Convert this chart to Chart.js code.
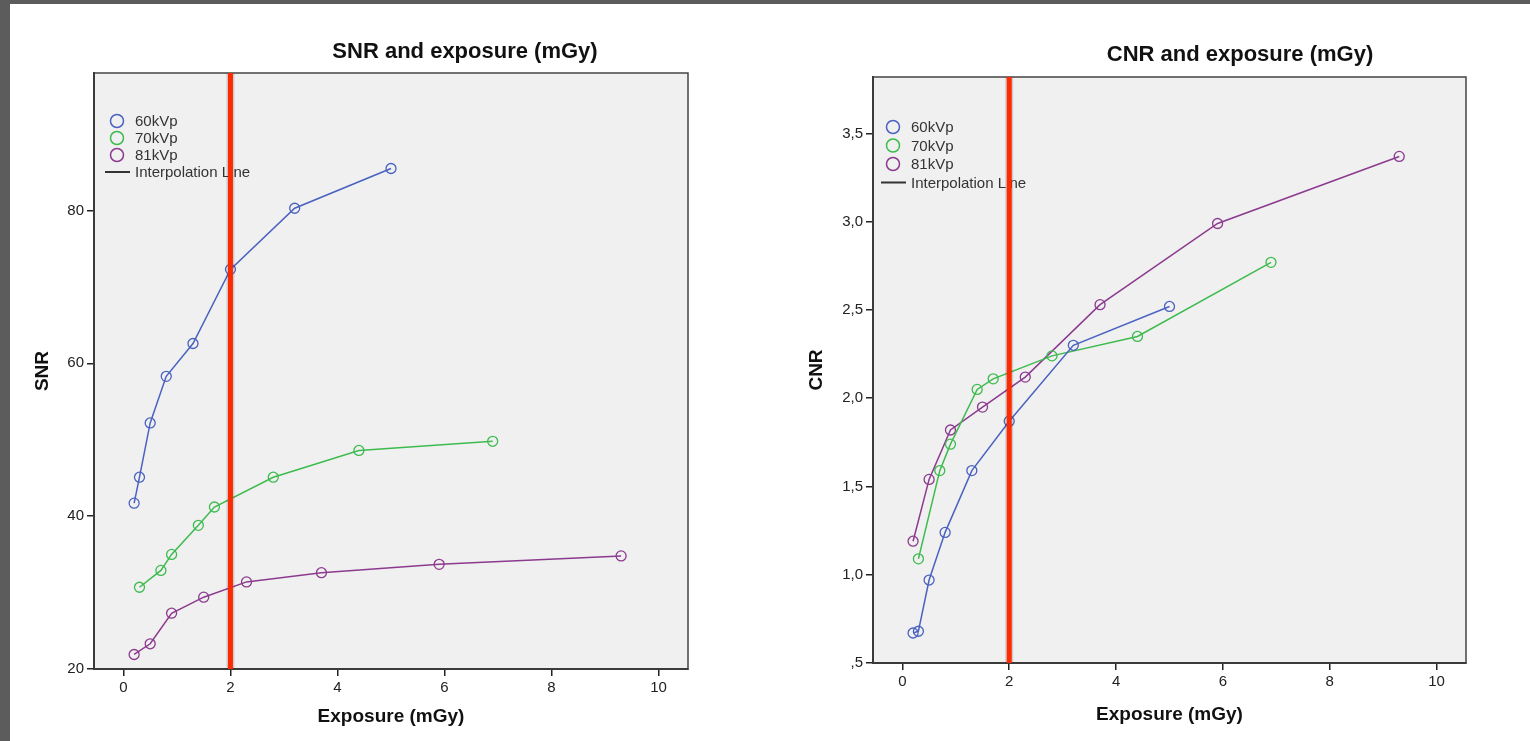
<!DOCTYPE html>
<html>
<head>
<meta charset="utf-8">
<script src="https://cdn.jsdelivr.net/npm/chart.js@4/dist/chart.umd.min.js"></script>
<style>
  html, body { margin: 0; padding: 0; }
  body { width: 1530px; height: 741px; background: #5c5c5c; position: relative; overflow: hidden; }
  #sheet { position: absolute; left: 10px; top: 4px; right: 0; bottom: 0; background: #fff; }
  canvas { position: absolute; top: 0; }
  #snr { left: 0; }
  #cnr { left: 770px; }
</style>
</head>
<body>
<div id="sheet"></div>
<canvas id="snr" width="770" height="741"></canvas>
<canvas id="cnr" width="760" height="741"></canvas>
<script>
// series labels
const seriesLabels = ["60kVp", "70kVp", "81kVp"];
const interpolationLabel = "Interpolation Line";

// exposure (mGy) for each tube voltage
const expo60 = [0.2, 0.3, 0.5, 0.8, 1.3, 2.0, 3.2, 5.0];
const expo70 = [0.3, 0.7, 0.9, 1.4, 1.7, 2.8, 4.4, 6.9];
const expo81 = [0.2, 0.5, 0.9, 1.5, 2.3, 3.7, 5.9, 9.3];

// SNR readings
const snr60 = [41.7, 45.1, 52.2, 58.3, 62.6, 72.3, 80.3, 85.5];
const snr70 = [30.7, 32.9, 35.0, 38.8, 41.2, 45.1, 48.6, 49.8];
const snr81 = [21.9, 23.3, 27.3, 29.4, 31.4, 32.6, 33.7, 34.8];

// CNR readings
const cnr60 = [0.67, 0.68, 0.97, 1.24, 1.59, 1.87, 2.30, 2.52];
const cnr70 = [1.09, 1.59, 1.74, 2.05, 2.11, 2.24, 2.35, 2.77];
const cnr81 = [1.19, 1.54, 1.82, 1.95, 2.12, 2.53, 2.99, 3.37];

// ticks
const xTicks = [0, 2, 4, 6, 8, 10];
const snrTicks = [20, 40, 60, 80];
const cnrTicks = [0.5, 1.0, 1.5, 2.0, 2.5, 3.0, 3.5];
const markerExposure = 2;

const colors = ["#4a62c0", "#3dbb4e", "#8c3a8f"];
const FONT = "'Liberation Sans', Arial, sans-serif";

const toPoints = (xs, ys) => xs.map((x, i) => ({ x: x, y: ys[i] }));

const makeDataset = (label, xs, ys, color) => ({
  label: label,
  data: toPoints(xs, ys),
  borderColor: color,
  backgroundColor: "transparent",
  borderWidth: 1.5,
  pointRadius: 5,
  pointBorderWidth: 1.3,
  pointBackgroundColor: "transparent",
  pointBorderColor: color,
  tension: 0,
});

// plot background, frame, in-plot legend, red marker line and offset title
const decorPlugin = {
  id: "decor",
  beforeDraw(chart, args, opts) {
    const a = chart.chartArea;
    const ctx = chart.ctx;
    ctx.save();
    ctx.fillStyle = "#f0f0f0";
    ctx.fillRect(a.left, a.top, a.right - a.left, a.bottom - a.top);
    ctx.restore();
  },
  afterDatasetsDraw(chart, args, opts) {
    const a = chart.chartArea;
    const ctx = chart.ctx;
    ctx.save();

    // legend inside the plot
    ctx.font = "15px " + FONT;
    ctx.textBaseline = "middle";
    ctx.fillStyle = "#333";
    const lx = a.left + opts.legendX;
    let ly = a.top + opts.legendY;
    seriesLabels.forEach((lab, i) => {
      ctx.beginPath();
      ctx.strokeStyle = colors[i];
      ctx.lineWidth = 1.5;
      ctx.arc(lx, ly, 6.5, 0, Math.PI * 2);
      ctx.stroke();
      ctx.fillText(lab, lx + 18, ly + 1);
      ly += opts.legendStep;
    });
    ctx.beginPath();
    ctx.strokeStyle = "#333";
    ctx.lineWidth = 2;
    ctx.moveTo(lx - 12, ly);
    ctx.lineTo(lx + 13, ly);
    ctx.stroke();
    ctx.fillText(interpolationLabel, lx + 18, ly + 1);

    // frame
    ctx.strokeStyle = "#444";
    ctx.lineWidth = 1.5;
    ctx.strokeRect(a.left, a.top, a.right - a.left, a.bottom - a.top);

    // red marker at 2 mGy
    const px = chart.scales.x.getPixelForValue(markerExposure);
    ctx.beginPath();
    ctx.strokeStyle = "rgba(0,0,0,0.15)";
    ctx.lineWidth = 8;
    ctx.moveTo(px, a.top);
    ctx.lineTo(px, a.bottom);
    ctx.stroke();
    ctx.beginPath();
    ctx.strokeStyle = "#ff2a00";
    ctx.lineWidth = 5;
    ctx.moveTo(px, a.top);
    ctx.lineTo(px, a.bottom);
    ctx.stroke();

    // title
    ctx.font = "bold 22px " + FONT;
    ctx.fillStyle = "#111";
    ctx.textAlign = "center";
    ctx.fillText(opts.title, opts.titleX, opts.titleY);
    ctx.restore();
  },
};

const makeConfig = (p) => ({
  type: "line",
  data: {
    datasets: [
      makeDataset(seriesLabels[0], expo60, p.y60, colors[0]),
      makeDataset(seriesLabels[1], expo70, p.y70, colors[1]),
      makeDataset(seriesLabels[2], expo81, p.y81, colors[2]),
    ],
  },
  options: {
    responsive: false,
    animation: false,
    events: [],
    layout: { padding: p.padding },
    plugins: {
      legend: { display: false },
      tooltip: { enabled: false },
      decor: p.decor,
    },
    scales: {
      x: {
        type: "linear",
        min: -0.55,
        max: 10.55,
        afterBuildTicks: (s) => { s.ticks = xTicks.map((v) => ({ value: v })); },
        afterFit: (s) => { s.height = p.xHeight; },
        grid: { drawOnChartArea: false, tickLength: 7, color: "#222", lineWidth: 1.5 },
        border: { color: "#222", width: 2 },
        ticks: { color: "#222", font: { family: FONT, size: 15 }, padding: 3, maxRotation: 0 },
        title: { display: true, text: "Exposure (mGy)", color: "#111", font: { family: FONT, size: 19, weight: "bold" } },
      },
      y: {
        type: "linear",
        min: p.yMin,
        max: p.yMax,
        afterBuildTicks: (s) => { s.ticks = p.yTicks.map((v) => ({ value: v })); },
        afterFit: (s) => { s.width = p.yWidth; },
        grid: { drawOnChartArea: false, tickLength: 7, color: "#222", lineWidth: 1.5 },
        border: { color: "#222", width: 2 },
        ticks: { color: "#222", font: { family: FONT, size: 15 }, padding: 3, callback: p.yFormat },
        title: { display: true, text: p.yTitle, color: "#111", font: { family: FONT, size: 19, weight: "bold" } },
      },
    },
  },
  plugins: [decorPlugin],
});

new Chart(document.getElementById("snr"), makeConfig({
  y60: snr60, y70: snr70, y81: snr81,
  yMin: 20, yMax: 98, yTicks: snrTicks, yTitle: "SNR",
  yFormat: (v) => String(v),
  padding: { left: 27, top: 73, right: 82, bottom: 9 },
  yWidth: 67, xHeight: 63,
  decor: { title: "SNR and exposure (mGy)", titleX: 465, titleY: 52, legendX: 23, legendY: 48, legendStep: 17 },
}));

new Chart(document.getElementById("cnr"), makeConfig({
  y60: cnr60, y70: cnr70, y81: cnr81,
  yMin: 0.5, yMax: 3.82, yTicks: cnrTicks, yTitle: "CNR",
  yFormat: (v) => v.toFixed(1).replace(".", ",").replace(/^0/, ""),
  padding: { left: 31, top: 77, right: 64, bottom: 11 },
  yWidth: 72, xHeight: 67,
  decor: { title: "CNR and exposure (mGy)", titleX: 470, titleY: 55, legendX: 20, legendY: 50, legendStep: 18.5 },
}));
</script>
</body>
</html>
